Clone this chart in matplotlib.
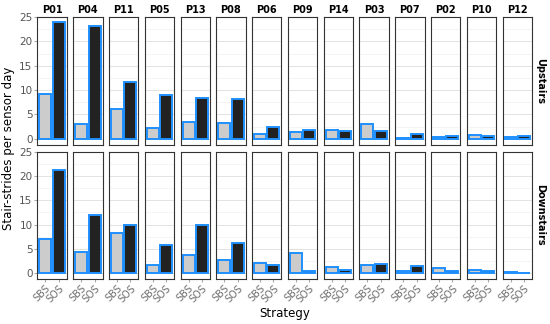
import numpy as np
import matplotlib
matplotlib.use("Agg")
import matplotlib.pyplot as plt

participants = ["P01", "P04", "P11", "P05", "P13", "P08", "P06",
                "P09", "P14", "P03", "P07", "P02", "P10", "P12"]
strategies = ["SBS", "SOS"]
rows = ["Upstairs", "Downstairs"]

up_sbs = [9.2, 3.1, 6.2, 2.3, 3.4, 3.2, 1.0, 1.3, 1.8, 3.1, 0.2, 0.4, 0.75, 0.3]
up_sos = [24.0, 23.1, 11.7, 9.0, 8.4, 8.1, 2.5, 1.8, 1.5, 1.5, 1.0, 0.6, 0.5, 0.5]
down_sbs = [7.1, 4.4, 8.2, 1.7, 3.8, 2.6, 2.0, 4.1, 1.2, 1.6, 0.5, 1.1, 0.7, 0.3]
down_sos = [21.2, 11.9, 9.8, 5.7, 9.8, 6.1, 1.6, 0.4, 0.6, 1.8, 1.4, 0.5, 0.5, 0.1]

data = {"Upstairs": (up_sbs, up_sos), "Downstairs": (down_sbs, down_sos)}
fills = ["#cccccc", "#222222"]
edge = "#1e90ff"
txt_gray = "#555555"

fig, axes = plt.subplots(2, 14, figsize=(5.5, 3.24), dpi=100, sharey=True)
fig.subplots_adjust(left=0.068, right=0.967, top=0.947, bottom=0.139,
                    wspace=0.22, hspace=0.055)

for r, row in enumerate(rows):
    sbs, sos = data[row]
    for c, p in enumerate(participants):
        ax = axes[r, c]
        ax.bar([1, 2], [sbs[c], sos[c]], width=0.9, color=fills,
               edgecolor=edge, linewidth=1.4, zorder=3)
        ax.set_xlim(0.4, 2.6)
        ax.set_ylim(-1.2, 25.0)
        ax.set_yticks([0, 5, 10, 15, 20, 25])
        ax.set_yticks([2.5, 7.5, 12.5, 17.5, 22.5], minor=True)
        ax.grid(axis="y", which="major", color="#dedede", linewidth=0.6, zorder=0)
        ax.grid(axis="y", which="minor", color="#ececec", linewidth=0.4, zorder=0)
        for s in ax.spines.values():
            s.set_color("#333333")
            s.set_linewidth(0.8)
        ax.tick_params(axis="y", which="minor", length=0)
        ax.tick_params(axis="y", length=2, color="#aaaaaa", labelsize=7.5,
                       labelcolor=txt_gray, pad=1.5)
        ax.set_xticks([1, 2])
        if r == 1:
            ax.set_xticklabels(strategies, rotation=45, ha="right",
                               rotation_mode="anchor", fontsize=7,
                               color="#707070")
            ax.tick_params(axis="x", length=2, color="#aaaaaa", pad=1)
        else:
            ax.set_xticklabels([])
            ax.tick_params(axis="x", length=0)
        if c > 0:
            ax.tick_params(axis="y", left=False, labelleft=False)
        if r == 0:
            ax.set_title(p, fontsize=7, fontweight="bold", pad=3)
    axes[r, -1].text(1.28, 0.5, row, transform=axes[r, -1].transAxes,
                     rotation=-90, ha="center", va="center",
                     fontsize=7, fontweight="bold")

fig.text(0.016, 0.543, "Stair-strides per sensor day", rotation=90,
         ha="center", va="center", fontsize=8.5)
fig.text(0.517, 0.033, "Strategy", ha="center", va="center", fontsize=8.5)

fig.savefig("out.png", dpi=100)
